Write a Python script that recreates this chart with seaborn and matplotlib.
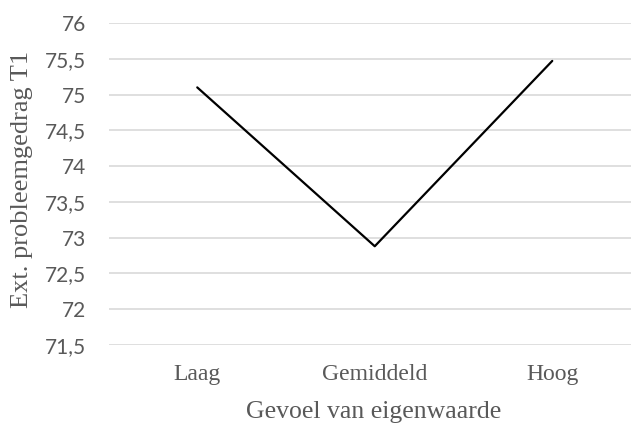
import matplotlib
matplotlib.use('Agg')
import pandas as pd
import seaborn as sns
import matplotlib.pyplot as plt
from matplotlib.ticker import FuncFormatter

# data
categories = ['Laag', 'Gemiddeld', 'Hoog']
values = [75.1, 72.88, 75.47]
y_ticks = [71.5, 72, 72.5, 73, 73.5, 74, 74.5, 75, 75.5, 76]

df = pd.DataFrame({'eigenwaarde': categories, 'probleemgedrag': values})

sns.set_style('white')
fig = plt.figure(figsize=(6.31, 4.23), dpi=100)
ax = fig.add_axes([108.5 / 631, 1 - 345 / 423, 532.5 / 631, 322 / 423])

sns.lineplot(data=df, x='eigenwaarde', y='probleemgedrag', color='black',
             linewidth=1.6, sort=False, ax=ax)

ax.set_xlim(-0.5, 2.5)
ax.set_ylim(71.5, 76)
ax.set_yticks(y_ticks)
ax.yaxis.set_major_formatter(FuncFormatter(lambda v, p: ('%g' % v).replace('.', ',')))
ax.grid(axis='y', color='#d9d9d9', linewidth=1.2)
ax.set_axisbelow(True)
for s in ax.spines.values():
    s.set_visible(False)

ax.tick_params(axis='y', length=0, pad=16, labelsize=15, labelcolor='#595959')
ax.tick_params(axis='x', length=0, pad=14, labelsize=17, labelcolor='#595959')
for t in ax.get_yticklabels():
    t.set_fontfamily('Lato')
for t in ax.get_xticklabels():
    t.set_fontfamily('Liberation Serif')

ax.set_xlabel('Gevoel van eigenwaarde', fontfamily='Liberation Serif',
              fontsize=18.5, color='#595959')
ax.set_ylabel('Ext. probleemgedrag T1', fontfamily='Liberation Serif',
              fontsize=19, color='#595959')
ax.xaxis.set_label_coords((374 - 108.5) / 532.5, -(401 - 345) / 322)
ax.yaxis.set_label_coords(-(108.5 - 33) / 532.5, (345 - 179) / 322)

fig.savefig('out.png', dpi=100)
